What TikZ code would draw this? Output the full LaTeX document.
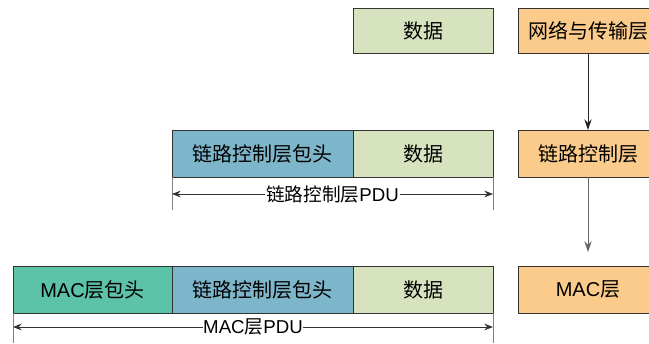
\documentclass[tikz,border=0pt]{standalone}
\usepackage{fontspec}
\setmainfont{Liberation Sans}
\newfontfamily\cjk{Noto Sans CJK SC}
\usetikzlibrary{positioning,arrows.meta}
\definecolor{datagreen}{HTML}{D7E3BF}
\definecolor{llcblue}{HTML}{7DB6CB}
\definecolor{macteal}{HTML}{5CC2A8}
\definecolor{layerorange}{HTML}{FACB8A}
\tikzset{
  box/.style={draw=black!80, line width=0.75pt, inner sep=0pt, outer sep=0pt,
    minimum height=35.25pt, font=\fontsize{15}{18}\selectfont},
  databox/.style={box, fill=datagreen, minimum width=105pt},
  llcbox/.style={box, fill=llcblue, minimum width=135.75pt},
  macbox/.style={box, fill=macteal, minimum width=119.25pt},
  layerbox/.style={box, fill=layerorange, minimum width=105pt},
  flow/.style={-{Stealth[length=8pt,width=5.5pt]}, line width=0.75pt, draw=black!85},
  pdu/.style={{Stealth[length=6.5pt,width=5pt]}-{Stealth[length=6.5pt,width=5pt]}, line width=0.6pt, draw=black!80},
  tick/.style={line width=0.6pt, draw=black!50},
  pdulabel/.style={midway, fill=white, inner sep=0.5pt, font=\fontsize{14}{17}\selectfont},
}
\begin{document}
\begin{tikzpicture}[x=0.75pt,y=-0.75pt]
  \useasboundingbox (0,0) rectangle (649,343);
  \clip (0,0) rectangle (649,343);
  %数据
  \node[databox, minimum height=33.75pt] (data0) at (423.5,30.5) {\cjk 数据};
  %链路控制层PDU
  \node[llcbox] (llc1) at (262.5,153.5) {\cjk 链路控制层包头};
  \node[databox, right=0pt of llc1] (data1) {\cjk 数据};
  %MAC层PDU
  \node[macbox] (mac2) at (92.5,289.5) {MAC{\cjk 层包头}};
  \node[llcbox, right=0pt of mac2] (llc2) {\cjk 链路控制层包头};
  \node[databox, right=0pt of llc2] (data2) {\cjk 数据};
  %层
  \node[layerbox, minimum height=33.75pt] (net) at (588,30.5) {\cjk 网络与传输层};
  \node[layerbox] (llc) at (588,153.5) {\cjk 链路控制层};
  \node[layerbox] (mac) at (588,289.5) {MAC{\cjk 层}};
  \draw[flow] (net) -- (llc);
  \draw[flow, draw=black!60, shorten >=10.5pt] (llc) -- (mac);
  %范围
  \coordinate (t1l) at (172,210);
  \coordinate (t1r) at (493,210);
  \coordinate (p1l) at (172,194);
  \coordinate (p1r) at (493,194);
  \draw[tick] (llc1.south west) -- (t1l);
  \draw[tick] (data1.south east) -- (t1r);
  \draw[pdu] (p1l) -- (p1r) node[pdulabel] {{\cjk 链路控制层}PDU};
  \coordinate (t2l) at (13,343);
  \coordinate (t2r) at (493,343);
  \coordinate (p2l) at (13,327);
  \coordinate (p2r) at (493,327);
  \draw[tick] (mac2.south west) -- (t2l);
  \draw[tick] (data2.south east) -- (t2r);
  \draw[pdu] (p2l) -- (p2r) node[pdulabel] {MAC{\cjk 层}PDU};
\end{tikzpicture}
\end{document}
